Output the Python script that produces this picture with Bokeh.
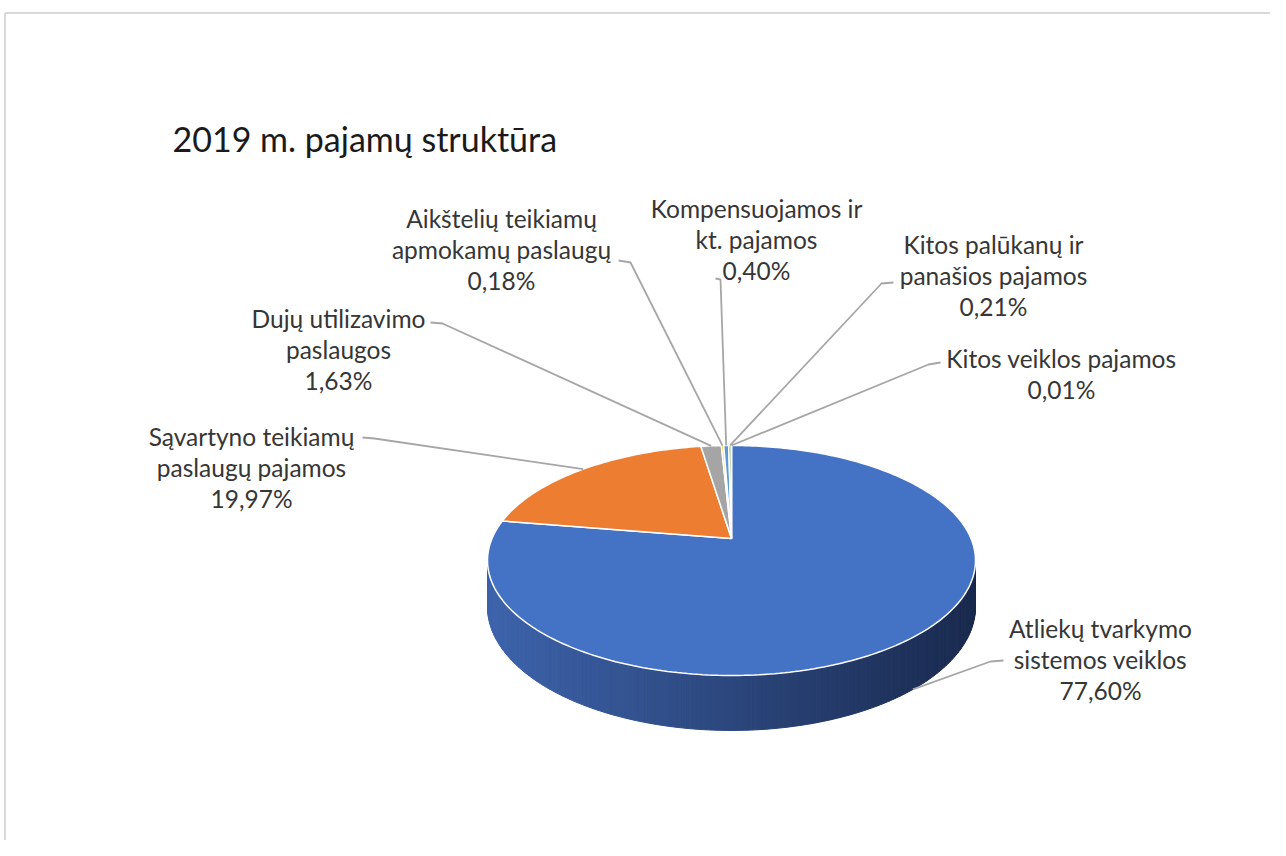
import numpy as np
from bokeh.plotting import figure
from bokeh.models import Range1d
from bokeh.core.properties import value
from bokeh.embed import file_html
from bokeh.resources import INLINE

# ---------------- data ----------------
categories = [
    "Atliekų tvarkymo\nsistemos veiklos",
    "Sąvartyno teikiamų\npaslaugų pajamos",
    "Dujų utilizavimo\npaslaugos",
    "Aikštelių teikiamų\napmokamų paslaugų",
    "Kompensuojamos ir\nkt. pajamos",
    "Kitos palūkanų ir\npanašios pajamos",
    "Kitos veiklos pajamos",
]
shares = [77.60, 19.97, 1.63, 0.18, 0.40, 0.21, 0.01]
colors = ["#4472C4", "#ED7D31", "#A5A5A5", "#FFC000", "#5B9BD5", "#70AD47", "#264478"]
title_text = "2019 m. pajamų struktūra"

# ---------------- layout (screen pixel coords) ----------------
label_cx = [1100, 251, 338, 501, 756, 993, 1061]
label_y0 = [628, 436, 318, 218, 208, 244, 358]
stub_a = [(1003, 660), (362, 437), (430, 322), (618, 260), (715, 278), (893, 282), (940, 362)]
stub_b = [(990, 661), (374, 438), (442, 323), (630, 262), (720, 279), (881, 283), (928, 364)]
line_gap = 31

# 3D pie projection parameters
CX, CY = 731.0, 538.0
A, B, K, D = 239.5, 110.8, 0.191, 44.5


def proj(phi_deg, r=1.0, z=0.0):
    ph = np.radians(phi_deg)
    X = r * np.sin(ph)
    Y = r * np.cos(ph)
    w = 1 + K * Y
    return CX + A * X / w, CY - B * Y / w + z * D / w


W, H = 1270, 840
p = figure(width=W, height=H, x_range=Range1d(0, W), y_range=Range1d(H, 0),
           output_backend="svg", toolbar_location=None, min_border=0)
p.axis.visible = False
p.grid.visible = False
p.outline_line_color = None
p.background_fill_color = "white"
p.border_fill_color = "white"

# chart-area frame
p.line([4.5, 4.5, 1300], [900, 12.5, 12.5], line_color="#d9d9d9", line_width=2)

# angles
tot = float(np.sum(shares))
cum = np.concatenate([[0], np.cumsum(shares)]) / tot * 360.0

# side (visible front), gradient strips
phi_r = np.degrees(np.arccos(-K))
phi_l = 360 - phi_r
edges = np.linspace(phi_r, phi_l, 161)
xs, ys, fc = [], [], []
for a0, a1 in zip(edges[:-1], edges[1:]):
    x0, y0 = proj(a0)
    x1, y1 = proj(a1)
    x2, y2 = proj(a1, z=1)
    x3, y3 = proj(a0, z=1)
    xs.append([x0, x1, x2, x3])
    ys.append([y0, y1, y2, y3])
    t = (0.5 * (x0 + x1) - (CX - 244)) / 488.0
    t = min(max(t, 0), 1)
    c0 = np.array([62, 100, 172])
    c1 = np.array([26, 42, 78])
    c = (c0 * (1 - t) + c1 * t).astype(int)
    fc.append("#%02x%02x%02x" % tuple(c))
p.patches(xs, ys, fill_color=fc, line_color=fc, line_width=1)

# top face slices
sx, sy = [], []
for i in range(len(shares)):
    a0, a1 = cum[i], cum[i + 1]
    n = max(2, int((a1 - a0) / 1.0) + 2)
    ang = np.linspace(a0, a1, n)
    px, py = proj(ang)
    sx.append([CX] + list(px))
    sy.append([CY] + list(py))
p.patches(sx, sy, fill_color=colors, line_color="white", line_width=1.5)

# leader lines
mids = 0.5 * (cum[:-1] + cum[1:])
for i in range(len(shares)):
    m = mids[i]
    ex, ey = proj(m, r=1.0)
    if 90 < m < 270:
        ex, ey = proj(m, r=1.0, z=1.0)
    p.line([stub_a[i][0], stub_b[i][0], ex], [stub_a[i][1], stub_b[i][1], ey],
           line_color="#a6a6a6", line_width=1.8)

# labels
tx, ty, tt = [], [], []
for i, name in enumerate(categories):
    lines = name.split("\n") + [("%.2f" % shares[i]).replace(".", ",") + "%"]
    for j, ln in enumerate(lines):
        tx.append(label_cx[i])
        ty.append(label_y0[i] + j * line_gap)
        tt.append(ln)
p.text(tx, ty, text=tt, text_align="center", text_baseline="middle",
       text_font=value("Lato"), text_font_size="24.5px", text_color="#363636")

p.text([172], [138], text=[title_text], text_align="left", text_baseline="middle",
       text_font=value("Lato"), text_font_size="34px", text_color="#1a1a1a")

open("out.html", "w").write(file_html(p, INLINE))
